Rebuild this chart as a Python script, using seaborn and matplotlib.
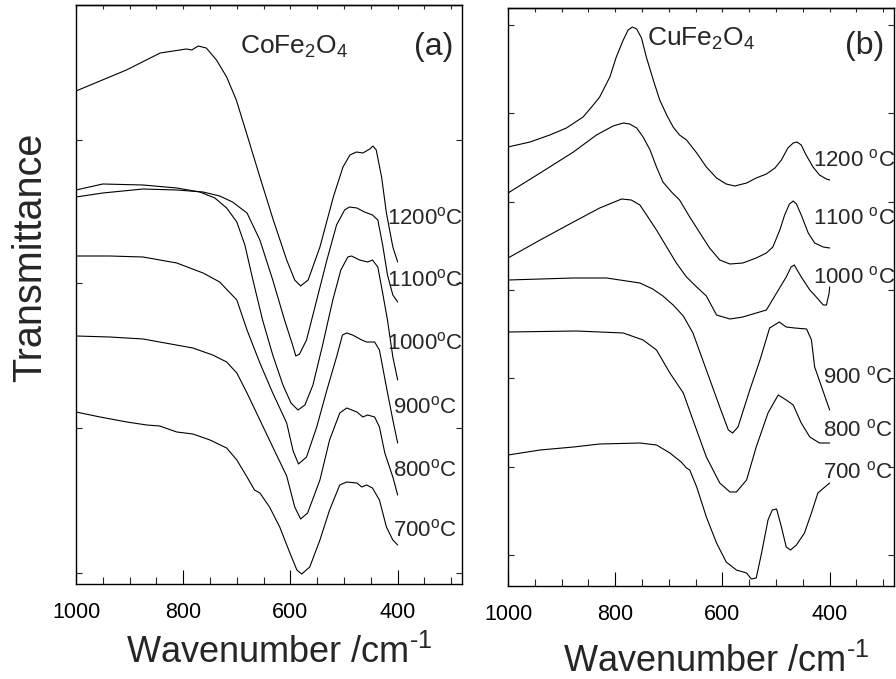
import numpy as np
import pandas as pd
import matplotlib
matplotlib.use("Agg")
import matplotlib.pyplot as plt
from matplotlib.ticker import MultipleLocator
import seaborn as sns

# ---- CoFe2O4 spectra (wavenumber in cm-1, transmittance in arbitrary offset units)
co_1200_w = [1000, 906, 843, 794, 784, 772, 757, 738, 719, 701, 682, 657, 632, 607, 592, 581,
             567, 545, 520, 502, 489, 477, 465, 452, 446, 440, 430, 421, 409, 400]
co_1200_t = [493, 514, 531, 535, 534, 538, 536, 524, 507, 484, 451, 407, 364, 324, 304, 298,
             304, 337, 387, 417, 429, 432, 431, 435, 438, 434, 407, 371, 337, 322]
co_1100_w = [1000, 950, 875, 812, 763, 732, 708, 681, 657, 633, 611, 596, 590, 583, 570, 551,
             532, 514, 499, 490, 476, 462, 447, 437, 428, 419, 409, 400]
co_1100_t = [387, 391, 395, 394, 392, 388, 382, 371, 344, 304, 264, 239, 228, 230, 244, 284,
             324, 359, 374, 377, 376, 372, 369, 364, 339, 309, 289, 282]
co_1000_w = [1000, 950, 875, 812, 769, 741, 719, 700, 685, 670, 652, 633, 614, 599, 586, 573,
             558, 540, 521, 506, 493, 486, 471, 456, 447, 437, 428, 419, 409, 400]
co_1000_t = [394, 400, 399, 396, 392, 386, 376, 362, 339, 304, 264, 229, 199, 181, 174, 179,
             199, 239, 284, 314, 327, 328, 324, 322, 324, 317, 291, 264, 227, 204]
co_900_w = [1000, 937, 875, 812, 763, 732, 700, 681, 657, 633, 607, 595, 585, 570, 551, 532,
            514, 503, 495, 484, 467, 458, 443, 434, 421, 409, 400]
co_900_t = [328, 328, 327, 321, 311, 302, 284, 254, 221, 191, 161, 133, 120, 127, 157, 194,
            227, 249, 251, 249, 244, 242, 242, 234, 197, 164, 141]
co_800_w = [1000, 937, 875, 844, 782, 745, 719, 700, 681, 657, 633, 607, 592, 581, 568, 545,
            527, 508, 495, 476, 465, 456, 443, 434, 424, 409, 400]
co_800_t = [248, 247, 245, 242, 236, 229, 222, 211, 191, 164, 137, 108, 77, 65, 71, 104,
            144, 171, 176, 172, 167, 169, 167, 157, 131, 107, 89]
co_700_w = [1000, 955, 905, 868, 844, 812, 782, 750, 719, 700, 681, 667, 657, 639, 620, 601,
            588, 579, 564, 545, 527, 508, 495, 476, 467, 458, 447, 434, 421, 409, 400]
co_700_t = [172, 167, 162, 159, 158, 152, 150, 144, 136, 124, 107, 94, 91, 77, 57, 31,
            14, 10, 17, 44, 74, 99, 102, 101, 97, 99, 96, 84, 57, 44, 39]

# ---- CuFe2O4 spectra
cu_1200_w = [1000, 959, 922, 891, 860, 844, 829, 810, 798, 785, 776, 768, 760, 751, 742, 729,
             717, 704, 692, 680, 667, 648, 630, 611, 593, 577, 555, 537, 518, 502, 490, 478,
             468, 461, 453, 444, 431, 419, 406, 400]
cu_1200_t = [439, 444, 451, 458, 469, 479, 489, 509, 529, 546, 556, 559, 557, 548, 529, 506,
             486, 471, 459, 451, 446, 433, 419, 408, 402, 400, 403, 408, 412, 418, 426, 438,
             443, 444, 441, 431, 419, 411, 407, 406]
cu_1100_w = [1000, 940, 878, 835, 804, 785, 773, 760, 748, 735, 723, 711, 695, 680, 661, 642,
             624, 605, 586, 562, 537, 518, 506, 493, 484, 475, 468, 462, 453, 440, 428, 412, 400]
cu_1100_t = [393, 413, 434, 451, 460, 463, 462, 458, 449, 436, 419, 404, 394, 386, 369, 353,
             338, 326, 322, 323, 328, 333, 339, 356, 371, 382, 385, 382, 371, 353, 343, 339, 338]
cu_1000_w = [1000, 940, 878, 829, 788, 770, 754, 739, 723, 704, 686, 667, 648, 630, 611, 586,
             562, 537, 518, 499, 481, 472, 466, 453, 437, 425, 412, 406, 401, 400]
cu_1000_t = [328, 346, 364, 378, 387, 386, 381, 369, 356, 339, 323, 309, 299, 290, 271, 267,
             269, 273, 276, 293, 309, 319, 321, 309, 296, 289, 281, 281, 293, 299]
cu_900_w = [1000, 878, 816, 754, 730, 711, 692, 673, 655, 630, 605, 589, 581, 571, 549, 530,
            512, 494, 481, 465, 443, 434, 428, 415, 400]
cu_900_t = [306, 308, 308, 303, 297, 290, 281, 270, 253, 216, 179, 156, 153, 159, 196, 226,
            258, 264, 259, 258, 257, 246, 219, 199, 176]
cu_800_w = [1000, 872, 785, 748, 723, 698, 673, 655, 630, 605, 586, 574, 555, 537, 515, 496,
            481, 468, 453, 437, 419, 400]
cu_800_t = [254, 255, 253, 246, 236, 213, 193, 166, 129, 103, 94, 94, 106, 139, 173, 191,
            186, 181, 163, 149, 143, 143]
cu_700_w = [1000, 940, 878, 829, 754, 723, 698, 677, 667, 661, 648, 630, 611, 593, 574, 555,
            546, 537, 527, 515, 507, 499, 490, 481, 473, 462, 447, 434, 422, 409, 400]
cu_700_t = [131, 136, 139, 142, 143, 141, 133, 124, 118, 116, 99, 69, 43, 24, 16, 13,
            7, 8, 33, 66, 76, 77, 59, 39, 36, 41, 53, 73, 93, 99, 103]

temps = ["1200", "1100", "1000", "900", "800", "700"]
co_curves = [(co_1200_w, co_1200_t), (co_1100_w, co_1100_t), (co_1000_w, co_1000_t),
             (co_900_w, co_900_t), (co_800_w, co_800_t), (co_700_w, co_700_t)]
cu_curves = [(cu_1200_w, cu_1200_t), (cu_1100_w, cu_1100_t), (cu_1000_w, cu_1000_t),
             (cu_900_w, cu_900_t), (cu_800_w, cu_800_t), (cu_700_w, cu_700_t)]

# label anchors (wavenumber, transmittance)
co_label_w = [419, 419, 419, 409, 409, 409]
co_label_t = [366, 304, 241, 177, 114, 54]
cu_label_w = [432, 432, 432, 413, 413, 413]
cu_label_t = [426, 368, 309, 209, 156, 114]

co_yticks = [11, 156, 301, 444]
cu_yticks = [31, 119, 208, 296, 384, 473, 561]


def long_frame(curves):
    rows = []
    for temp, (w, t) in zip(temps, curves):
        rows.append(pd.DataFrame({"wavenumber": w, "T": t, "temp": temp}))
    return pd.concat(rows, ignore_index=True)


sns.set_style("ticks")
plt.rcParams["font.family"] = ["Liberation Sans", "DejaVu Sans"]
plt.rcParams["mathtext.fontset"] = "custom"
plt.rcParams["mathtext.rm"] = "Liberation Sans"
plt.rcParams["mathtext.it"] = "Liberation Sans:italic"
plt.rcParams["axes.linewidth"] = 1.0

fig = plt.figure(figsize=(8.96, 6.79), dpi=100)
ax1 = fig.add_axes([76 / 896, 1 - 584 / 679, 386 / 896, 579 / 679])
ax2 = fig.add_axes([508 / 896, 1 - 586 / 679, 386 / 896, 578 / 679])


def style_panel(ax, df, yticks, ylim):
    sns.lineplot(data=df, x="wavenumber", y="T", units="temp", estimator=None, sort=False,
                 color="black", lw=0.8, ax=ax, legend=False)
    ax.set_xlim(1000, 280)
    ax.set_ylim(*ylim)
    ax.xaxis.set_major_locator(MultipleLocator(200))
    ax.xaxis.set_minor_locator(MultipleLocator(50))
    ax.set_yticks(yticks)
    ax.set_yticklabels([])
    ax.tick_params(axis="x", which="major", direction="in", length=10, width=0.8,
                   labelsize=15.5, pad=13, colors="black")
    ax.tick_params(axis="x", which="minor", direction="in", length=5, width=0.8)
    ax.tick_params(axis="y", which="major", direction="in", length=4, width=0.8,
                   left=True, right=True)
    sec = ax.secondary_xaxis("top")
    sec.set_xticks(np.arange(300, 1001, 50))
    sec.tick_params(direction="in", length=3, width=0.8, labeltop=False)
    ax.set_ylabel("")
    ax.set_xlabel(r"Wavenumber /cm$^{\text{-1}}$", fontsize=26)
    for s in ax.spines.values():
        s.set_visible(True)
        s.set_color("black")


style_panel(ax1, long_frame(co_curves), co_yticks, (0, 579))
style_panel(ax2, long_frame(cu_curves), cu_yticks, (0, 578))
ax1.xaxis.set_label_coords(0.527, -0.088)
ax2.xaxis.set_label_coords(0.54, -0.1)

for temp, w, t in zip(temps, co_label_w, co_label_t):
    ax1.text(w, t, temp + r"$^\mathrm{o}$C", fontsize=16, ha="left", va="center")
for temp, w, t in zip(temps, cu_label_w, cu_label_t):
    ax2.text(w, t, temp + r" $^\mathrm{o}$C", fontsize=16, ha="left", va="center")

ax1.text(694, 537, r"CoFe$_\mathrm{2}$O$_\mathrm{4}$", fontsize=19, ha="left", va="center")
ax1.text(296, 537, "(a)", fontsize=23, ha="right", va="center")
ax2.text(741, 547, r"CuFe$_\mathrm{2}$O$_\mathrm{4}$", fontsize=19, ha="left", va="center")
ax2.text(298, 540, "(b)", fontsize=23, ha="right", va="center")

fig.text(30 / 896, 1 - 257 / 679, "Transmittance", rotation=90, fontsize=28.5,
         ha="center", va="center")

fig.savefig("out.png", dpi=100)
